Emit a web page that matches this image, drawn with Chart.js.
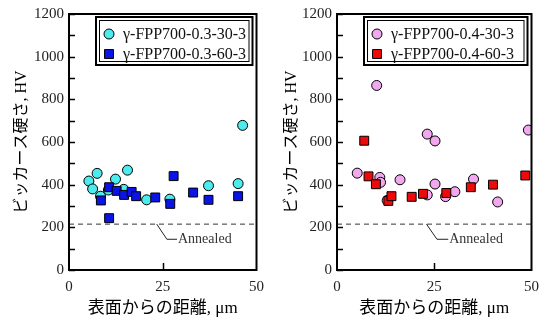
<!DOCTYPE html>
<html>
<head>
<meta charset="utf-8">
<script src="https://cdn.jsdelivr.net/npm/chart.js@4.4.1/dist/chart.umd.min.js"></script>
<style>
  html, body { margin: 0; padding: 0; background: #fff; }
  #wrap { position: relative; width: 547px; height: 323px; }
  canvas { position: absolute; top: 0; }
</style>
</head>
<body>
<div id="wrap">
  <canvas id="chartLeft" width="272" height="323" style="left:0"></canvas>
  <canvas id="chartRight" width="277" height="323" style="left:270px"></canvas>
</div>
<script>
// --- data ---
const xTicks = [0, 25, 50];
const yMax = 1200;
const annealedHV = 215;

// left panel
const fpp03_30_x = [5.3, 6.3, 7.5, 8.4, 10.5, 12.4, 14.6, 15.6, 20.7, 26.9, 37.2, 45.1, 46.3];
const fpp03_30_y = [417, 380, 453, 346, 375, 426, 378, 468, 329, 332, 395, 405, 678];
const fpp03_60_x = [8.5, 10.7, 10.7, 12.7, 14.7, 16.7, 17.9, 23.0, 27.0, 27.9, 33.1, 37.2, 45.1];
const fpp03_60_y = [326, 388, 243, 371, 352, 366, 346, 340, 310, 440, 363, 329, 346];

// right panel
const fpp04_30_x = [5.2, 10.2, 11.0, 11.2, 12.9, 16.2, 23.2, 23.2, 25.2, 25.2, 27.9, 30.3, 35.1, 41.3, 49.2];
const fpp04_30_y = [454, 865, 434, 411, 326, 423, 637, 352, 605, 403, 344, 367, 426, 319, 656];
const fpp04_60_x = [7.0, 8.1, 10.0, 13.2, 14.0, 19.2, 22.1, 28.1, 34.4, 40.1, 48.4];
const fpp04_60_y = [606, 439, 402, 324, 346, 343, 357, 361, 388, 400, 443];

const SERIF = '"Liberation Serif", "Times New Roman", serif';
const JP = '"Liberation Serif", "Noto Sans CJK JP", serif';

const toPoints = (xs, ys) => xs.map((x, i) => ({ x: x, y: ys[i] }));

// --- frame, inward ticks, annealed note ---
const framePlugin = {
  id: 'frame',
  afterDatasetsDraw(chart) {
    const { ctx, chartArea: a, scales } = chart;
    ctx.save();
    ctx.strokeStyle = '#000';
    ctx.lineWidth = 1.5;
    // y ticks pointing inward
    scales.y.ticks.forEach(t => {
      const py = Math.round(scales.y.getPixelForValue(t.value)) + 0.5;
      ctx.beginPath();
      ctx.moveTo(a.left, py);
      ctx.lineTo(a.left + 6, py);
      ctx.stroke();
    });
    // x tick at 25 only
    const px = Math.round(scales.x.getPixelForValue(25)) + 0.5;
    ctx.beginPath();
    ctx.moveTo(px, a.bottom);
    ctx.lineTo(px, a.bottom - 7);
    ctx.stroke();

    // annealed leader + label
    const note = chart.options.plugins.frame.note;
    ctx.lineWidth = 1;
    ctx.strokeStyle = '#222';
    ctx.beginPath();
    ctx.moveTo(scales.x.getPixelForValue(note.x0), scales.y.getPixelForValue(annealedHV));
    ctx.lineTo(scales.x.getPixelForValue(note.x1), scales.y.getPixelForValue(note.y));
    ctx.lineTo(scales.x.getPixelForValue(note.x2), scales.y.getPixelForValue(note.y));
    ctx.stroke();
    ctx.fillStyle = '#333';
    ctx.font = '14px ' + SERIF;
    ctx.textBaseline = 'middle';
    ctx.fillText('Annealed', scales.x.getPixelForValue(note.x2) + 1, scales.y.getPixelForValue(note.y));

    // plot frame
    ctx.lineWidth = 2;
    ctx.strokeStyle = '#000';
    ctx.strokeRect(a.left, a.top, a.right - a.left, a.bottom - a.top);

    // legend with double border
    const bx = a.left + 27, by = a.top + 3;
    const bw = a.right - 4 - bx, bh = 48;
    ctx.fillStyle = '#fff';
    ctx.fillRect(bx, by, bw, bh);
    ctx.lineWidth = 2;
    ctx.strokeRect(bx, by, bw, bh);
    ctx.lineWidth = 1;
    ctx.strokeRect(bx + 3.5, by + 3.5, bw - 7, bh - 7);

    const items = chart.data.datasets.filter(d => d.legendRow !== undefined);
    items.forEach(d => {
      const ly = by + 17 + d.legendRow * 20;
      ctx.fillStyle = d.backgroundColor;
      ctx.strokeStyle = d.borderColor;
      ctx.lineWidth = 1;
      Chart.helpers.drawPoint(ctx, { pointStyle: d.pointStyle, radius: d.pointRadius, rotation: 0, borderWidth: 1 }, bx + 13, ly);
      ctx.fillStyle = '#111';
      ctx.font = '16px ' + SERIF;
      ctx.textBaseline = 'middle';
      ctx.fillText(d.label, bx + 27, ly + 1);
    });
    ctx.restore();
  }
};

function makePanel(id, circleLabel, circleColor, circleData, squareLabel, squareColor, squareData, yAxisWidth, padRight, note) {
  return new Chart(document.getElementById(id), {
    type: 'scatter',
    data: {
      datasets: [
        {
          label: squareLabel,
          data: squareData,
          pointStyle: 'rect',
          pointRadius: 6.3,
          backgroundColor: squareColor,
          borderColor: '#000',
          borderWidth: 1,
          order: 1,
          legendRow: 1
        },
        {
          label: circleLabel,
          data: circleData,
          pointStyle: 'circle',
          pointRadius: 5,
          backgroundColor: circleColor,
          borderColor: '#000',
          borderWidth: 1,
          order: 2,
          legendRow: 0
        },
        {
          type: 'line',
          label: 'Annealed',
          data: [{ x: xTicks[0], y: annealedHV }, { x: xTicks[xTicks.length - 1], y: annealedHV }],
          borderColor: '#333',
          borderWidth: 1,
          borderDash: [5, 4],
          pointRadius: 0,
          order: 3
        }
      ]
    },
    options: {
      responsive: false,
      animation: false,
      devicePixelRatio: 1,
      layout: { padding: { top: 12, right: padRight, bottom: 0, left: 0 } },
      plugins: {
        legend: { display: false },
        tooltip: { enabled: false },
        frame: { note: note }
      },
      scales: {
        x: {
          type: 'linear',
          min: xTicks[0],
          max: xTicks[xTicks.length - 1],
          afterBuildTicks: s => { s.ticks = xTicks.map(v => ({ value: v })); },
          grid: { display: false, drawTicks: false },
          border: { display: false },
          ticks: { color: '#222', font: { family: SERIF, size: 15 }, padding: 8, maxRotation: 0 },
          title: {
            display: true,
            text: '表面からの距離, μm',
            color: '#000',
            font: { family: JP, size: 17 },
            padding: { top: 0, bottom: 4 }
          },
          afterFit: s => { s.height = 53; }
        },
        y: {
          min: 0,
          max: yMax,
          grid: { display: false, drawTicks: false },
          border: { display: false },
          ticks: {
            stepSize: 100,
            autoSkip: false,
            color: '#222',
            font: { family: SERIF, size: 15 },
            padding: 5,
            callback: v => (v % 200 === 0 ? v : '')
          },
          title: {
            display: true,
            text: 'ビッカース硬さ, HV',
            color: '#000',
            font: { family: JP, size: 16 },
            padding: { top: 12, bottom: 0 }
          },
          afterFit: s => { s.width = yAxisWidth; }
        }
      }
    },
    plugins: [framePlugin]
  });
}

makePanel('chartLeft',
  'γ-FPP700-0.3-30-3', '#4DEBEB', toPoints(fpp03_30_x, fpp03_30_y),
  'γ-FPP700-0.3-60-3', '#0A14E6', toPoints(fpp03_60_x, fpp03_60_y),
  69, 10, { x0: 23.4, x1: 26.1, x2: 28.8, y: 144 });

makePanel('chartRight',
  'γ-FPP700-0.4-30-3', '#F2A8EE', toPoints(fpp04_30_x, fpp04_30_y),
  'γ-FPP700-0.4-60-3', '#EE0A0A', toPoints(fpp04_60_x, fpp04_60_y),
  67, 15, { x0: 23.0, x1: 25.7, x2: 28.6, y: 144 });
</script>
</body>
</html>
